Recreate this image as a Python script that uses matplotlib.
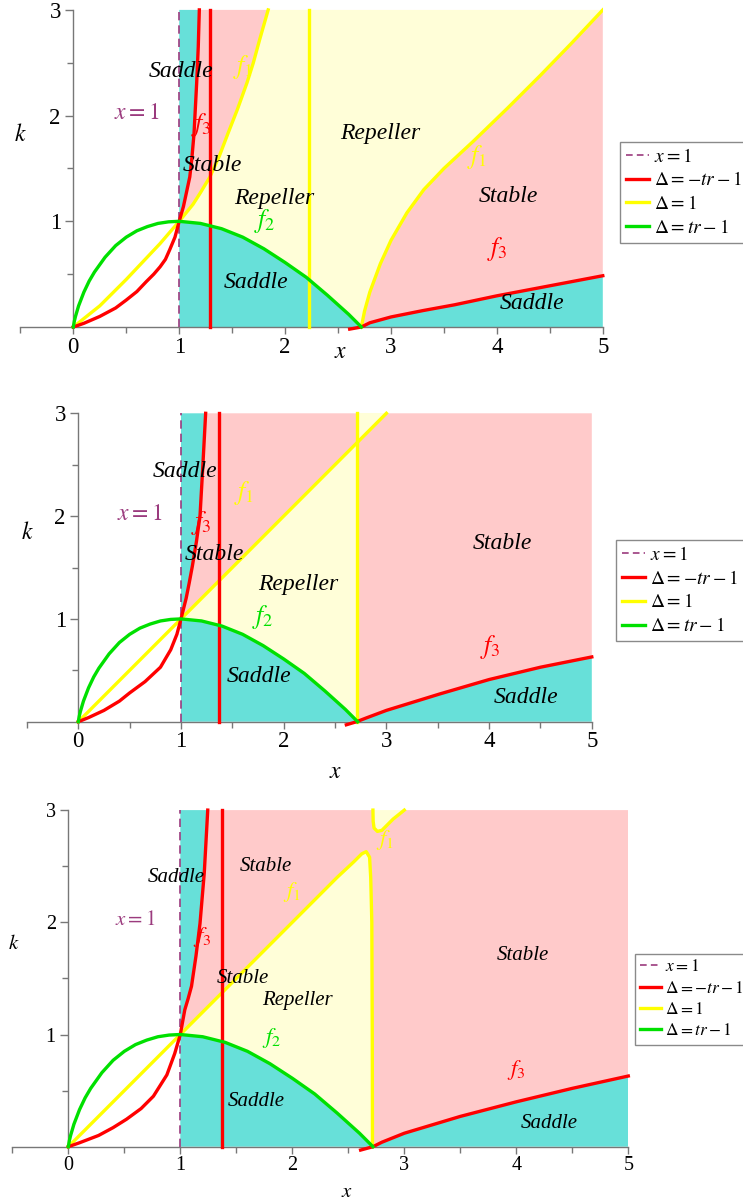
import matplotlib
matplotlib.use("Agg")
import matplotlib.pyplot as plt
from matplotlib.lines import Line2D

plt.rcParams['font.family'] = ['Liberation Serif', 'DejaVu Serif']
plt.rcParams['mathtext.fontset'] = 'stix'

W, H = 743, 1204
XLIM = (-0.5, 5.0)
YLIM = (-0.04, 3.03)

TEAL = '#67E0D9'
PINK = '#FFCACA'
LYELLOW = '#FFFED8'
RED = '#FF0000'
YELLOW = '#FFFF00'
GREEN = '#00E000'
PURPLE = '#9B3B7E'

# f2 (Delta = tr - 1), identical in the three panels
f2_x = [0, 0.01, 0.02, 0.05, 0.1, 0.15, 0.2, 0.3, 0.4, 0.5, 0.6, 0.7, 0.8, 0.9, 1.0,
        1.2, 1.4, 1.6, 1.8, 2.0, 2.2, 2.4, 2.6, 2.72]
f2_k = [0, 0.056, 0.098, 0.2, 0.33, 0.435, 0.52, 0.66, 0.77, 0.85, 0.91, 0.95, 0.98, 0.995, 1.0,
        0.98, 0.93, 0.85, 0.74, 0.61, 0.47, 0.30, 0.12, 0.0]

# panel 1
p1_f1_left_x = [0, 0.25, 0.5, 0.82, 1.0, 1.13, 1.2, 1.29, 1.38, 1.46, 1.55, 1.64, 1.70, 1.76, 1.84]
p1_f1_left_k = [0, 0.2, 0.45, 0.79, 1.0, 1.16, 1.27, 1.42, 1.62, 1.83, 2.06, 2.31, 2.5, 2.72, 3.0]
p1_f1_right_x = [2.72, 2.75, 2.8, 2.9, 3.0, 3.15, 3.31, 3.5, 3.78, 4.1, 4.41, 4.7, 5.0]
p1_f1_right_k = [0, 0.15, 0.33, 0.6, 0.82, 1.08, 1.3, 1.5, 1.76, 2.07, 2.38, 2.68, 3.0]
p1_f3_left_x = [0, 0.1, 0.25, 0.4, 0.5, 0.6, 0.69, 0.76, 0.82, 0.87, 0.91, 0.96, 1.0,
                1.04, 1.07, 1.10, 1.12, 1.14, 1.165, 1.18, 1.19]
p1_f3_left_k = [0, 0.035, 0.10, 0.18, 0.255, 0.335, 0.43, 0.5, 0.57, 0.64, 0.73, 0.85, 1.0,
                1.14, 1.28, 1.42, 1.6, 1.83, 2.31, 2.65, 3.0]
p1_f3_right_x = [2.61, 2.72, 2.8, 3.0, 3.3, 3.6, 4.0, 4.5, 5.0]
p1_f3_right_k = [-0.02, 0, 0.04, 0.095, 0.155, 0.21, 0.295, 0.39, 0.485]
p1_red_vline = 1.29
p1_yellow_vline = 2.23

# panel 2
p2_f1_x = [0, 1.0, 2.71, 3.0]
p2_f1_k = [0, 1.0, 2.71, 3.0]
p2_f3_left_x = [0, 0.1, 0.25, 0.4, 0.5, 0.65, 0.8, 0.9, 0.96, 1.0,
                1.05, 1.08, 1.11, 1.15, 1.185, 1.21, 1.24]
p2_f3_left_k = [0, 0.04, 0.11, 0.2, 0.28, 0.39, 0.53, 0.7, 0.85, 1.0,
                1.2, 1.35, 1.51, 1.75, 2.0, 2.44, 3.0]
p2_f3_right_x = [2.61, 2.71, 2.8, 3.0, 3.52, 4.0, 4.5, 5.0]
p2_f3_right_k = [-0.03, 0, 0.035, 0.11, 0.27, 0.41, 0.53, 0.63]
p2_red_vline = 1.37
p2_yellow_vline = 2.71

# panel 3
p3_f1_lower_x = [0, 1.0, 2.4, 2.55, 2.62, 2.66, 2.69, 2.70, 2.71, 2.714, 2.716]
p3_f1_lower_k = [0, 1.0, 2.4, 2.54, 2.61, 2.63, 2.58, 2.40, 2.0, 1.0, 0.0]
p3_f1_upper_x = [2.72, 2.722, 2.73, 2.76, 2.80, 2.90, 3.0]
p3_f1_upper_k = [3.0, 2.90, 2.84, 2.81, 2.82, 2.92, 3.0]
p3_f3_left_x = [0, 0.1, 0.27, 0.4, 0.52, 0.65, 0.76, 0.88, 0.95, 1.0,
                1.04, 1.07, 1.10, 1.14, 1.176, 1.214, 1.245]
p3_f3_left_k = [0, 0.035, 0.10, 0.17, 0.245, 0.34, 0.45, 0.64, 0.83, 1.0,
                1.22, 1.32, 1.43, 1.7, 1.99, 2.44, 3.0]
p3_f3_right_x = [2.61, 2.72, 2.8, 3.0, 3.5, 4.0, 4.5, 5.0]
p3_f3_right_k = [-0.03, 0, 0.04, 0.12, 0.27, 0.40, 0.52, 0.63]
p3_red_vline = 1.375

# region names and curve names: (text, x, k)
p1_regions = [("Saddle", 1.02, 2.42), ("Stable", 1.31, 1.53), ("Repeller", 1.9, 1.22),
              ("Saddle", 1.73, 0.42), ("Repeller", 2.9, 1.83), ("Stable", 4.11, 1.23),
              ("Saddle", 4.33, 0.22)]
p1_names = [("$f_3$", RED, 1.21, 1.91), ("$f_1$", YELLOW, 1.6, 2.46), ("$f_2$", GREEN, 1.81, 1.0),
            ("$f_1$", YELLOW, 3.81, 1.61), ("$f_3$", RED, 4.0, 0.74)]
p2_regions = [("Saddle", 1.04, 2.43), ("Stable", 1.33, 1.63), ("Repeller", 2.14, 1.33),
              ("Saddle", 1.76, 0.44), ("Stable", 4.13, 1.73), ("Saddle", 4.36, 0.24)]
p2_names = [("$f_3$", RED, 1.2, 1.93), ("$f_1$", YELLOW, 1.61, 2.22), ("$f_2$", GREEN, 1.8, 1.02),
            ("$f_3$", RED, 4.01, 0.73)]
p3_regions = [("Saddle", 0.96, 2.40), ("Stable", 1.76, 2.50), ("Stable", 1.56, 1.50),
              ("Repeller", 2.05, 1.30), ("Saddle", 1.68, 0.40), ("Stable", 4.06, 1.70),
              ("Saddle", 4.29, 0.21)]
p3_names = [("$f_3$", RED, 1.2, 1.87), ("$f_1$", YELLOW, 2.0, 2.27), ("$f_2$", GREEN, 1.82, 0.97),
            ("$f_1$", YELLOW, 2.83, 2.73), ("$f_3$", RED, 4.0, 0.68)]


def upper_part(xs, ks):
    # points of a curve from k = 1 upwards
    i = ks.index(1.0)
    return list(zip(xs[i:], ks[i:]))


def from_zero(xs, ks):
    i = ks.index(0)
    return list(zip(xs[i:], ks[i:]))


def fill(ax, pts, color):
    ax.fill([p[0] for p in pts], [p[1] for p in pts], color=color, lw=0, zorder=1)


def axes_rect(x0_px, xs, k0_px, ks):
    left = x0_px + XLIM[0] * xs
    right = x0_px + XLIM[1] * xs
    top = k0_px - YLIM[1] * ks
    bottom = k0_px - YLIM[0] * ks
    return [left / W, 1 - bottom / H, (right - left) / W, (bottom - top) / H]


def style_axes(ax, fs):
    ax.set_xlim(*XLIM)
    ax.set_ylim(*YLIM)
    for s in ('top', 'right'):
        ax.spines[s].set_visible(False)
    ax.spines['left'].set_position(('data', 0))
    ax.spines['bottom'].set_position(('data', 0))
    ax.spines['left'].set_bounds(0, 3)
    ax.spines['bottom'].set_bounds(-0.5, 5)
    for s in ('left', 'bottom'):
        ax.spines[s].set_color('#777777')
        ax.spines[s].set_linewidth(1.0)
        ax.spines[s].set_zorder(2)
    ax.set_xticks([0, 1, 2, 3, 4, 5])
    ax.set_xticks([-0.5, 0.5, 1.5, 2.5, 3.5, 4.5], minor=True)
    ax.set_yticks([1, 2, 3])
    ax.set_yticks([0.5, 1.5, 2.5], minor=True)
    ax.tick_params(which='both', direction='out', colors='#777777', labelcolor='black',
                   labelsize=fs, width=1.0)
    ax.tick_params(axis='x', which='major', length=5, pad=2)
    ax.tick_params(axis='x', which='minor', length=4)
    ax.tick_params(axis='y', which='major', length=6, pad=3)
    ax.tick_params(axis='y', which='minor', length=4)
    ax.patch.set_alpha(0)


def draw_common(ax, f3_left, f3_right, red_v, regions, names, tfs, xlab, klab):
    ax.plot([1, 1], [0, 3], color=PURPLE, lw=1.2, ls=(0, (5, 3)), zorder=3)
    ax.plot(*f3_left, color=RED, lw=2.4, zorder=4)
    ax.plot(*f3_right, color=RED, lw=2.4, zorder=4, clip_on=False)
    ax.plot([red_v, red_v], [0, 3], color=RED, lw=2.4, zorder=4)
    ax.plot(f2_x, f2_k, color=GREEN, lw=2.4, zorder=5)
    for txt, x, k in regions:
        ax.text(x, k, txt, style='italic', fontsize=tfs, ha='center', va='center', zorder=6)
    for txt, c, x, k in names:
        ax.text(x, k, txt, color=c, fontsize=tfs + 1.5, ha='center', va='center', zorder=6)
    ax.text(0.6, 2.02, '$x = 1$', color=PURPLE, fontsize=tfs, ha='center', va='center')
    ax.text(klab[0], klab[1], '$k$', fontsize=tfs, ha='center', va='center', clip_on=False)
    ax.text(xlab[0], xlab[1], '$x$', fontsize=tfs, ha='center', va='center', clip_on=False)


def add_legend(ax, pos, fs):
    h = [Line2D([], [], color=PURPLE, lw=1.2, ls=(0, (4, 2.5))),
         Line2D([], [], color=RED, lw=2.4),
         Line2D([], [], color=YELLOW, lw=2.4),
         Line2D([], [], color=GREEN, lw=2.4)]
    lab = ['$x = 1$', r'$\Delta = -tr - 1$', r'$\Delta = 1$', r'$\Delta = tr - 1$']
    leg = ax.legend(h, lab, loc='upper left', bbox_to_anchor=(pos[0] / W, 1 - pos[1] / H),
                    bbox_transform=fig.transFigure, fontsize=fs, frameon=True, fancybox=False,
                    framealpha=1, edgecolor='#8a8a8a', handlelength=1.2, handletextpad=0.25,
                    labelspacing=0.3, borderpad=0.3, borderaxespad=0)
    leg.get_frame().set_linewidth(1.0)


fig = plt.figure(figsize=(W / 100, H / 100), dpi=100)

# ---------- panel 1 ----------
ax1 = fig.add_axes(axes_rect(73.3, 105.9, 327.0, 105.7))
style_axes(ax1, 16.5)
up = upper_part(p1_f3_left_x, p1_f3_left_k)
f1u = upper_part(p1_f1_left_x, p1_f1_left_k)
f1r = list(zip(p1_f1_right_x, p1_f1_right_k))
f3r = from_zero(p1_f3_right_x, p1_f3_right_k)
g = list(zip(f2_x, f2_k))
g_right = [p for p in g if p[0] >= 1.0]
fill(ax1, up + [(1, 3)], TEAL)
fill(ax1, up + f1u[::-1], PINK)
fill(ax1, f1u + [(5, 3)] + f1r[::-1] + g_right[::-1], LYELLOW)
fill(ax1, [(1, 0)] + g_right + f3r + [(5, 0)], TEAL)
fill(ax1, f1r + f3r[::-1], PINK)
ax1.plot(p1_f1_left_x, p1_f1_left_k, color=YELLOW, lw=2.4, zorder=4)
ax1.plot(p1_f1_right_x, p1_f1_right_k, color=YELLOW, lw=2.4, zorder=4)
ax1.plot([p1_yellow_vline] * 2, [0, 3], color=YELLOW, lw=2.4, zorder=4)
draw_common(ax1, (p1_f3_left_x, p1_f3_left_k), (p1_f3_right_x, p1_f3_right_k), p1_red_vline,
            p1_regions, p1_names, 17, (2.52, -0.24), (-0.50, 1.82))
add_legend(ax1, (620, 141.7), 14)

# ---------- panel 2 ----------
ax2 = fig.add_axes(axes_rect(78.3, 102.7, 721.7, 102.8))
style_axes(ax2, 16.5)
up = upper_part(p2_f3_left_x, p2_f3_left_k)
f3r = from_zero(p2_f3_right_x, p2_f3_right_k)
v = p2_yellow_vline
fill(ax2, up + [(1, 3)], TEAL)
fill(ax2, up + [(v, 3), (v, v), (1, 1)], PINK)
fill(ax2, [(1, 1), (v, v), (v, 0)] + g_right[::-1], LYELLOW)
fill(ax2, [(v, v), (v, 3), (3, 3)], LYELLOW)
fill(ax2, [(v, 0), (v, v), (3, 3), (5, 3)] + f3r[::-1], PINK)
fill(ax2, [(1, 0)] + g_right + f3r + [(5, 0)], TEAL)
ax2.plot(p2_f1_x, p2_f1_k, color=YELLOW, lw=2.4, zorder=4)
ax2.plot([v, v], [0, 3], color=YELLOW, lw=2.4, zorder=4)
draw_common(ax2, (p2_f3_left_x, p2_f3_left_k), (p2_f3_right_x, p2_f3_right_k), p2_red_vline,
            p2_regions, p2_names, 17, (2.51, -0.49), (-0.50, 1.84))
add_legend(ax2, (615.7, 540), 14)

# ---------- panel 3 ----------
ax3 = fig.add_axes(axes_rect(68.3, 112.0, 1146.7, 112.2))
style_axes(ax3, 14.5)
up = upper_part(p3_f3_left_x, p3_f3_left_k)
f3r = from_zero(p3_f3_right_x, p3_f3_right_k)
low = list(zip(p3_f1_lower_x, p3_f1_lower_k))
low_right = [p for p in low if p[0] >= 1.0]
f1up = list(zip(p3_f1_upper_x, p3_f1_upper_k))
fill(ax3, up + [(1, 3)], TEAL)
fill(ax3, up + f1up + [(5, 3)] + f3r[::-1] + low_right[::-1], PINK)
fill(ax3, low_right + g_right[::-1], LYELLOW)
fill(ax3, f1up, LYELLOW)
fill(ax3, [(1, 0)] + g_right + f3r + [(5, 0)], TEAL)
ax3.plot(p3_f1_lower_x, p3_f1_lower_k, color=YELLOW, lw=2.4, zorder=4)
ax3.plot(p3_f1_upper_x, p3_f1_upper_k, color=YELLOW, lw=2.4, zorder=4)
draw_common(ax3, (p3_f3_left_x, p3_f3_left_k), (p3_f3_right_x, p3_f3_right_k), p3_red_vline,
            p3_regions, p3_names, 15, (2.49, -0.41), (-0.49, 1.80))
add_legend(ax3, (634.7, 954), 12.5)

fig.savefig('out.png', dpi=100)
